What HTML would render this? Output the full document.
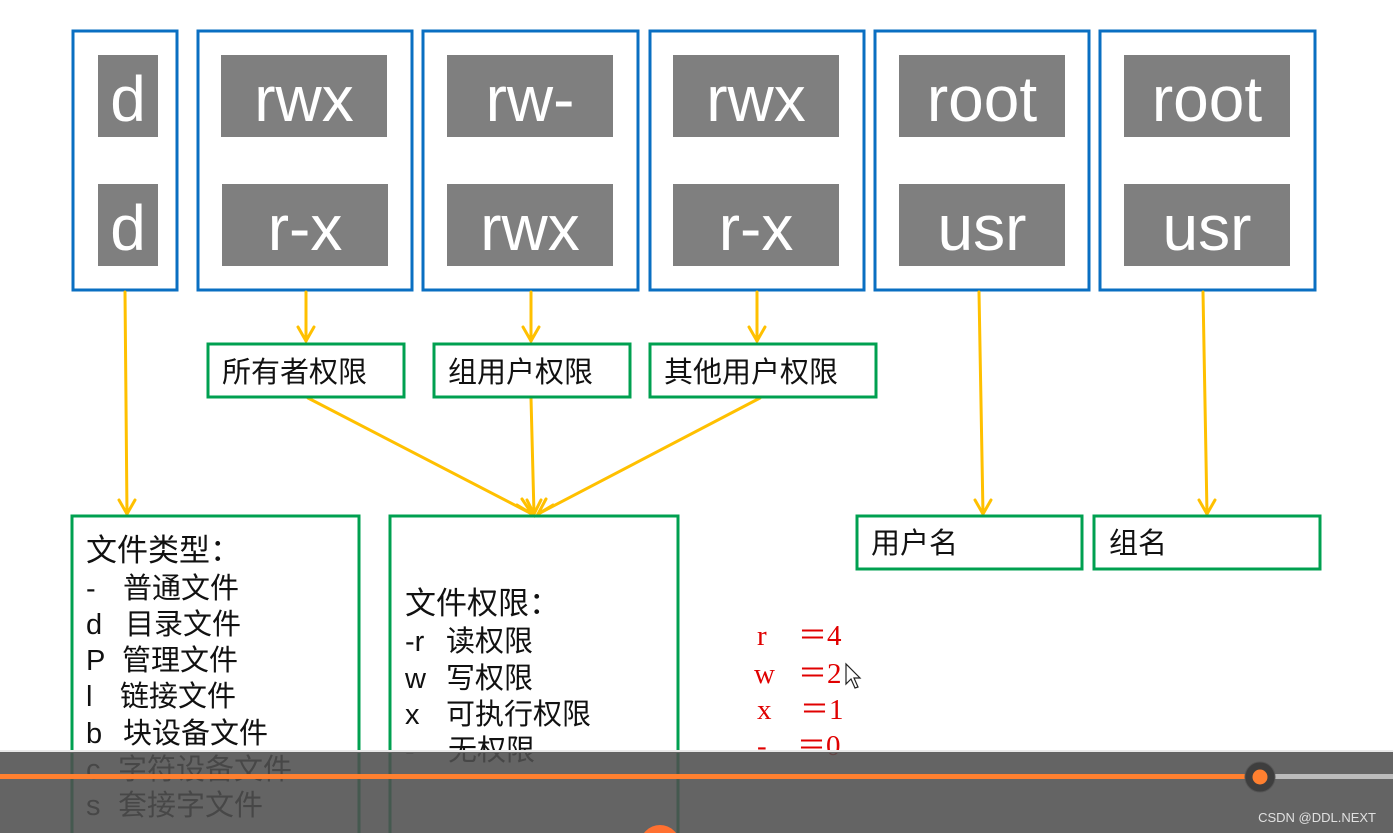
<!DOCTYPE html>
<html><head><meta charset="utf-8"><style>
html,body{margin:0;padding:0;background:#fff;width:1393px;height:833px;overflow:hidden}
svg{display:block}
.w{font-family:"Liberation Sans","DejaVu Sans",sans-serif;fill:#fff;font-size:64px}
.c{font-family:"Liberation Sans","Noto Sans CJK SC",sans-serif;fill:#111;font-size:29px}
.r{font-family:"Liberation Serif",serif;fill:#e00000;font-size:29px}
</style></head><body>
<svg width="1393" height="833" viewBox="0 0 1393 833" xmlns="http://www.w3.org/2000/svg">
<g fill="none" stroke="#0a6fc2" stroke-width="3">
<rect x="73" y="31" width="104" height="259"/>
<rect x="198" y="31" width="214" height="259"/>
<rect x="423" y="31" width="215" height="259"/>
<rect x="650" y="31" width="214" height="259"/>
<rect x="875" y="31" width="214" height="259"/>
<rect x="1100" y="31" width="215" height="259"/>
</g>
<g fill="#7f7f7f">
<rect x="98" y="55" width="60" height="82"/><rect x="98" y="184" width="60" height="82"/>
<rect x="221" y="55" width="166" height="82"/><rect x="222" y="184" width="166" height="82"/>
<rect x="447" y="55" width="166" height="82"/><rect x="447" y="184" width="166" height="82"/>
<rect x="673" y="55" width="166" height="82"/><rect x="673" y="184" width="166" height="82"/>
<rect x="899" y="55" width="166" height="82"/><rect x="899" y="184" width="166" height="82"/>
<rect x="1124" y="55" width="166" height="82"/><rect x="1124" y="184" width="166" height="82"/>
</g>
<g class="w" text-anchor="middle">
<text x="128" y="121">d</text><text x="128" y="250">d</text>
<text x="304" y="121">rwx</text><text x="305" y="250">r-x</text>
<text x="530" y="121">rw-</text><text x="530" y="250">rwx</text>
<text x="756" y="121">rwx</text><text x="756" y="250">r-x</text>
<text x="982" y="121">root</text><text x="982" y="250">usr</text>
<text x="1207" y="121">root</text><text x="1207" y="250">usr</text>
</g>
<g stroke="#ffc000" stroke-width="3" fill="none" stroke-linecap="round">
<line x1="125" y1="292" x2="127" y2="514"/><polyline points="119,500 127,514 135,500"/>
<line x1="306" y1="292" x2="306" y2="341"/><polyline points="298,327 306,341 314,327"/>
<line x1="531" y1="292" x2="531" y2="341"/><polyline points="523,327 531,341 539,327"/>
<line x1="757" y1="292" x2="757" y2="341"/><polyline points="749,327 757,341 765,327"/>
<line x1="979" y1="292" x2="983" y2="514"/><polyline points="975,500 983,514 991,500"/>
<line x1="1203" y1="292" x2="1207" y2="514"/><polyline points="1199,500 1207,514 1215,500"/>
<line x1="308" y1="398" x2="532" y2="514"/>
<line x1="531" y1="398" x2="534" y2="514"/>
<line x1="760" y1="398" x2="538" y2="514"/>
<polyline points="517,505 532,514 522,499"/>
<polyline points="527,500 534,514 541,500"/>
<polyline points="546,499 538,514 553,505"/>
</g>
<g fill="none" stroke="#00a050" stroke-width="3">
<rect x="208" y="344" width="196" height="53"/>
<rect x="434" y="344" width="196" height="53"/>
<rect x="650" y="344" width="226" height="53"/>
<rect x="72" y="516" width="287" height="330"/>
<rect x="390" y="516" width="288" height="330"/>
<rect x="857" y="516" width="225" height="53"/>
<rect x="1094" y="516" width="226" height="53"/>
</g>
<g class="c">
<text x="222" y="382">所有者权限</text>
<text x="448" y="382">组用户权限</text>
<text x="664" y="382">其他用户权限</text>
<text x="871" y="553">用户名</text>
<text x="1109" y="553">组名</text>
<text x="86" y="561" font-size="31">文件类型：</text>
<text x="86" y="598">-</text><text x="123" y="598">普通文件</text>
<text x="86" y="634">d</text><text x="125" y="634">目录文件</text>
<text x="86" y="670">P</text><text x="122" y="670">管理文件</text>
<text x="86" y="706">l</text><text x="120" y="706">链接文件</text>
<text x="86" y="743">b</text><text x="123" y="743">块设备文件</text>
<text x="86" y="779">c</text><text x="118" y="779">字符设备文件</text>
<text x="86" y="815">s</text><text x="118" y="815">套接字文件</text>
<text x="405" y="614" font-size="31">文件权限：</text>
<text x="405" y="651">-r</text><text x="446" y="651">读权限</text>
<text x="405" y="688">w</text><text x="446" y="688">写权限</text>
<text x="405" y="724">x</text><text x="446" y="724">可执行权限</text>
<text x="405" y="760">-</text><text x="448" y="760">无权限</text>
</g>
<g class="r">
<text x="757" y="645">r</text><text x="798" y="645">＝4</text>
<text x="754" y="683">w</text><text x="798" y="683">＝2</text>
<text x="757" y="719">x</text><text x="800" y="719">＝1</text>
<text x="757" y="755">-</text><text x="797" y="755">＝0</text>
</g>
<path d="M846,664 L846,684 L851,679 L855,688 L858,687 L854,678 L860,678 Z" fill="#fff" stroke="#222" stroke-width="1.2"/>
<rect x="0" y="750" width="1393" height="3" fill="#e8e8e8"/>
<rect x="0" y="752" width="1393" height="81" fill="rgba(78,78,78,0.88)"/>
<rect x="0" y="774" width="1260" height="5" fill="#ff8030"/>
<rect x="1260" y="774" width="133" height="5" fill="#bcbcbc"/>
<circle cx="1260" cy="777" r="15" fill="#3e3e3e" stroke="#555" stroke-width="1"/>
<circle cx="1260" cy="777" r="7.5" fill="#ff8030"/>
<circle cx="660" cy="845" r="20" fill="#ff7030"/>
<text x="1376" y="822" text-anchor="end" font-family="Liberation Sans,sans-serif" font-size="13" fill="#e0e0e0">CSDN @DDL.NEXT</text>
</svg>
</body></html>
